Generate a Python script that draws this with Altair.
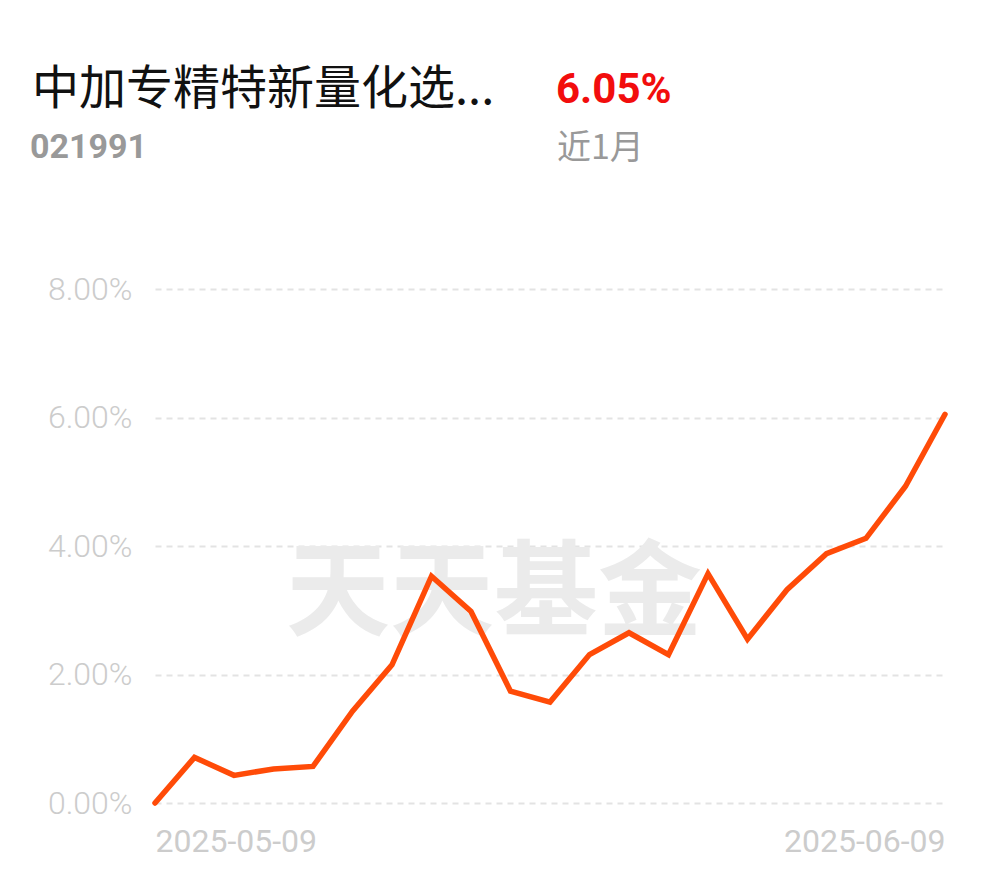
import altair as alt
import pandas as pd

dates = ["2025-05-09", "2025-05-12", "2025-05-13", "2025-05-14", "2025-05-15", "2025-05-16",
         "2025-05-19", "2025-05-20", "2025-05-21", "2025-05-22", "2025-05-23",
         "2025-05-26", "2025-05-27", "2025-05-28", "2025-05-29", "2025-05-30",
         "2025-06-03", "2025-06-04", "2025-06-05", "2025-06-06", "2025-06-09"]
returns = [0.00, 0.71, 0.43, 0.53, 0.57, 1.43, 2.15, 3.53, 2.98, 1.74, 1.57,
           2.31, 2.65, 2.31, 3.57, 2.55, 3.32, 3.88, 4.12, 4.93, 6.05]
y_ticks = [0, 2, 4, 6, 8]
x_ticks = ["2025-05-09", "2025-06-09"]

fund_name = "中加专精特新量化选..."
fund_code = "021991"
period_return = "6.05%"
period_label = "近1月"
watermark = "天天基金"

df = pd.DataFrame({"date": dates, "ret": returns})

W, H = 790, 514

x_enc = alt.X("date:O", scale=alt.Scale(type="point", padding=0),
              axis=alt.Axis(values=x_ticks, title=None, domain=False, ticks=False, tickSize=0,
                            labelAngle=0, labelFontSize=32, labelColor="#cccccc",
                            labelFont="Roboto", labelPadding=23, labelBaseline="top",
                            labelAlign=alt.expr("datum.value == '2025-05-09' ? 'left' : 'right'"),
                            grid=False))
y_enc = alt.Y("ret:Q", scale=alt.Scale(domain=[0, 8], nice=False, zero=True),
              axis=alt.Axis(values=y_ticks, title=None, domain=False, ticks=False, tickSize=0,
                            labelExpr="format(datum.value, '.2f') + '%'",
                            labelFontSize=32, labelFontWeight=300, labelColor="#cccccc",
                            labelFont="Roboto", labelPadding=23, grid=True,
                            gridColor="#e3e3e3", gridDash=[6, 5], gridWidth=2))

wm = alt.Chart(pd.DataFrame({"t": [watermark]})).mark_text(
    font="Noto Sans CJK SC", fontWeight="bold", fontSize=104, color="#ebebeb",
    align="center", baseline="middle"
).encode(x=alt.value(494 - 155), y=alt.value(308), text="t:N")

line = alt.Chart(df).mark_line(color="#ff4b08", strokeWidth=5.5, strokeCap="round",
                               strokeJoin="miter").encode(x=x_enc, y=y_enc)

def txt(s, x, y, size, color, weight="normal", font="Noto Sans CJK SC"):
    return alt.Chart(pd.DataFrame({"t": [s]})).mark_text(
        font=font, fontSize=size, color=color, fontWeight=weight,
        align="left", baseline="alphabetic"
    ).encode(x=alt.value(x), y=alt.value(y), text="t:N")

t1 = txt(fund_name, 32 - 155, 104 - 289, 47, "#111111")
t2 = txt(fund_code, 30 - 155, 158 - 289, 34, "#999999", "bold", "Roboto")
t3 = txt(period_return, 556 - 155, 103 - 289, 42, "#f20d0d", "bold", "Roboto")
t4 = txt(period_label, 557 - 155, 159 - 289, 34, "#999999")

chart = alt.layer(wm, line, t1, t2, t3, t4).properties(
    width=W, height=H,
    background="#ffffff",
    autosize=alt.AutoSizeParams(type="none"),
    padding={"left": 147, "top": 281, "right": 37, "bottom": 67},
).configure_view(stroke=None, strokeWidth=0)

chart.save("out.html", embed_options={"renderer": "svg", "actions": False})
